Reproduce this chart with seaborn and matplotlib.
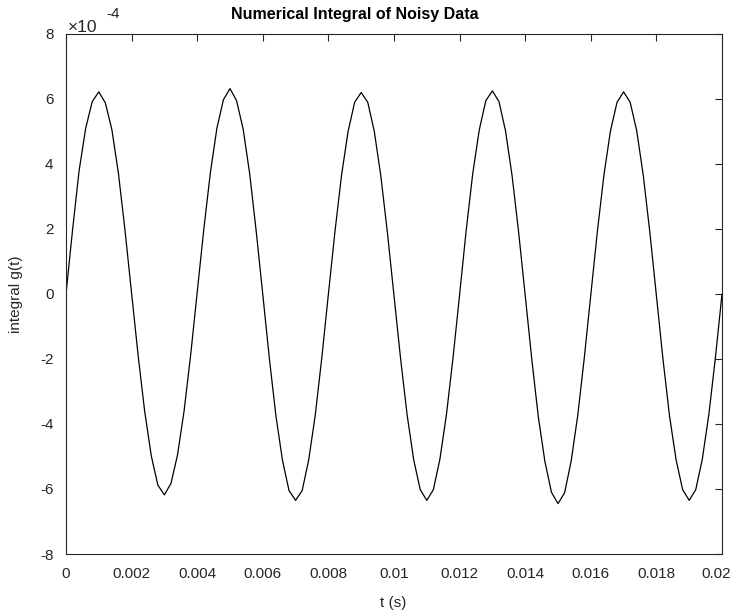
import numpy as np
import pandas as pd
import matplotlib
matplotlib.use("Agg")
import matplotlib.pyplot as plt
import seaborn as sns
from matplotlib.ticker import FuncFormatter, MultipleLocator
from matplotlib.transforms import ScaledTranslation

# sampled at dt = 0.2 ms, values in units of 1e-4
t = np.linspace(0, 0.02, 101)
g_scaled = [
    0.00, 1.97, 3.80, 5.10, 5.92, 6.22, 5.88, 5.05, 3.70, 1.95,
    0.02, -1.90, -3.62, -4.98, -5.88, -6.18, -5.83, -4.95, -3.60, -1.88,
    0.05, 1.98, 3.72, 5.10, 5.98, 6.32, 5.95, 5.08, 3.70, 1.92,
    -0.02, -1.98, -3.75, -5.12, -6.05, -6.35, -6.05, -5.10, -3.72, -1.95,
    0.00, 1.92, 3.65, 5.00, 5.90, 6.20, 5.90, 5.00, 3.62, 1.88,
    -0.05, -1.98, -3.72, -5.10, -6.02, -6.35, -6.02, -5.08, -3.70, -1.96,
    -0.02, 1.95, 3.70, 5.05, 5.95, 6.25, 5.92, 5.02, 3.64, 1.90,
    -0.04, -2.00, -3.78, -5.15, -6.10, -6.45, -6.12, -5.15, -3.75, -1.98,
    -0.03, 1.92, 3.66, 5.02, 5.90, 6.22, 5.90, 5.02, 3.65, 1.90,
    -0.05, -2.00, -3.75, -5.10, -6.02, -6.35, -6.02, -5.08, -3.70, -1.95,
    0.00,
]
df = pd.DataFrame({"t": t, "g": np.array(g_scaled) * 1e-4})

sns.set_theme(style="white")
plt.rcParams['font.family'] = ['Liberation Sans', 'DejaVu Sans']

W, H = 732, 615
fig = plt.figure(figsize=(W / 100, H / 100), dpi=100)
ax = fig.add_axes([66 / W, 1 - 554 / H, 656 / W, 520 / H])

sns.lineplot(data=df, x="t", y="g", ax=ax, color="black", linewidth=0.9)

ax.set_xlim(0, 0.02)
ax.set_ylim(-8e-4, 8e-4)
ax.xaxis.set_major_locator(MultipleLocator(0.002))
ax.yaxis.set_major_locator(MultipleLocator(2e-4))
ax.xaxis.set_major_formatter(FuncFormatter(lambda v, p: "%g" % round(v, 6)))
ax.yaxis.set_major_formatter(FuncFormatter(lambda v, p: "%g" % round(v * 1e4, 6)))

dark = "#262626"
for s in ax.spines.values():
    s.set_color(dark)
    s.set_linewidth(0.8)
ax.tick_params(direction="in", length=5, width=0.8, colors=dark,
               labelsize=11, top=True, right=True)
ax.tick_params(axis="x", pad=9)
ax.tick_params(axis="y", pad=9)
ax.set_xlabel("")
ax.set_ylabel("")

# "0.02" sits against the right edge; nudge it inward so it stays on canvas
fig.canvas.draw()
for tl in ax.get_xticklabels():
    if tl.get_text() == "0.02":
        tl.set_transform(tl.get_transform() + ScaledTranslation(-6 / 100, 0, fig.dpi_scale_trans))

fig.text(393 / W, 1 - 603 / H, "t (s)", fontsize=11, color=dark,
         ha="center", va="center")
fig.text(16 / W, 1 - 294 / H, "integral g(t)", fontsize=11, color=dark,
         ha="center", va="center", rotation=90)
fig.text(355 / W, 1 - 15 / H, "Numerical Integral of Noisy Data", fontsize=11.5,
         fontweight="bold", color="black", ha="center", va="center")

# exponent marker in MATLAB style
fig.text(68 / W, 1 - 27 / H, "\u00d710", fontsize=12.5, color=dark,
         ha="left", va="center")
fig.text(106 / W, 1 - 14 / H, "-4", fontsize=11, color=dark,
         ha="left", va="center")

fig.savefig("out.png", dpi=100)
